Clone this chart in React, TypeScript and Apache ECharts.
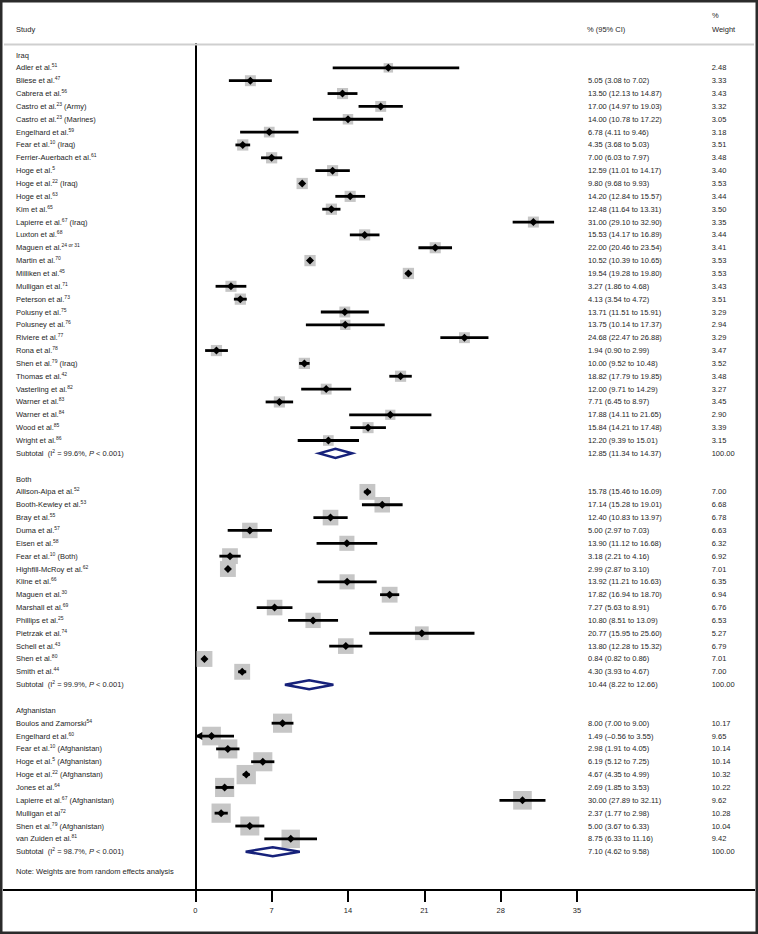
import { useEffect, useRef } from "react";
import * as echarts from "echarts";

// ---------- DATA ----------
const iraqStudy = ["Adler et al.", "Bliese et al.", "Cabrera et al.", "Castro et al.", "Castro et al.", "Engelhard et al.", "Fear et al.", "Ferrier-Auerbach et al.", "Hoge et al.", "Hoge et al.", "Hoge et al.", "Kim et al.", "Lapierre et al.", "Luxton et al.", "Maguen et al.", "Martin et al.", "Milliken et al.", "Mulligan et al.", "Peterson et al.", "Polusny et al.", "Polusney et al.", "Riviere et al.", "Rona et al.", "Shen et al.", "Thomas et al.", "Vasterling et al.", "Warner et al.", "Warner et al.", "Wood et al.", "Wright et al."];
const iraqRef = ["51", "47", "56", "23", "23", "59", "10", "61", "5", "22", "63", "65", "67", "68", "24 or 31", "70", "45", "71", "73", "75", "76", "77", "78", "79", "42", "82", "83", "84", "85", "86"];
const iraqSuffix = ["", "", "", " (Army)", " (Marines)", "", " (Iraq)", "", "", " (Iraq)", "", "", " (Iraq)", "", "", "", "", "", "", "", "", "", "", " (Iraq)", "", "", "", "", "", ""];
const iraqEst = [17.7, 5.05, 13.5, 17.0, 14.0, 6.78, 4.35, 7.0, 12.59, 9.8, 14.2, 12.48, 31.0, 15.53, 22.0, 10.52, 19.54, 3.27, 4.13, 13.71, 13.75, 24.68, 1.94, 10.0, 18.82, 12.0, 7.71, 17.88, 15.84, 12.2];
const iraqLo = [12.6, 3.08, 12.13, 14.97, 10.78, 4.11, 3.68, 6.03, 11.01, 9.68, 12.84, 11.64, 29.1, 14.17, 20.46, 10.39, 19.28, 1.86, 3.54, 11.51, 10.14, 22.47, 0.9, 9.52, 17.79, 9.71, 6.45, 14.11, 14.21, 9.39];
const iraqHi = [24.2, 7.02, 14.87, 19.03, 17.22, 9.46, 5.03, 7.97, 14.17, 9.93, 15.57, 13.31, 32.9, 16.89, 23.54, 10.65, 19.8, 4.68, 4.72, 15.91, 17.37, 26.88, 2.99, 10.48, 19.85, 14.29, 8.97, 21.65, 17.48, 15.01];
const iraqWeight = [2.48, 3.33, 3.43, 3.32, 3.05, 3.18, 3.51, 3.48, 3.4, 3.53, 3.44, 3.5, 3.35, 3.44, 3.41, 3.53, 3.53, 3.43, 3.51, 3.29, 2.94, 3.29, 3.47, 3.52, 3.48, 3.27, 3.45, 2.9, 3.39, 3.15];
const iraqSubtotal = [12.85, 11.34, 14.37];

const bothStudy = ["Allison-Aipa et al.", "Booth-Kewley et al.", "Bray et al.", "Duma et al.", "Eisen et al.", "Fear et al.", "Highfill-McRoy et al.", "Kline et al.", "Maguen et al.", "Marshall et al.", "Phillips et al.", "Pietrzak et al.", "Schell et al.", "Shen et al.", "Smith et al."];
const bothRef = ["52", "53", "55", "57", "58", "10", "62", "66", "30", "69", "25", "74", "43", "80", "44"];
const bothSuffix = ["", "", "", "", "", " (Both)", "", "", "", "", "", "", "", "", ""];
const bothEst = [15.78, 17.14, 12.4, 5.0, 13.9, 3.18, 2.99, 13.92, 17.82, 7.27, 10.8, 20.77, 13.8, 0.84, 4.3];
const bothLo = [15.46, 15.28, 10.83, 2.97, 11.12, 2.21, 2.87, 11.21, 16.94, 5.63, 8.51, 15.95, 12.28, 0.82, 3.93];
const bothHi = [16.09, 19.01, 13.97, 7.03, 16.68, 4.16, 3.1, 16.63, 18.7, 8.91, 13.09, 25.6, 15.32, 0.86, 4.67];
const bothWeight = [7.0, 6.68, 6.78, 6.63, 6.32, 6.92, 7.01, 6.35, 6.94, 6.76, 6.53, 5.27, 6.79, 7.01, 7.0];
const bothSubtotal = [10.44, 8.22, 12.66];

const afgStudy = ["Boulos and Zamorski", "Engelhard et al.", "Fear et al.", "Hoge et al.", "Hoge et al.", "Jones et al.", "Lapierre et al.", "Mulligan et al", "Shen et al.", "van Zuiden et al."];
const afgRef = ["54", "60", "10", "5", "22", "64", "67", "72", "79", "81"];
const afgSuffix = ["", "", " (Afghanistan)", " (Afghanistan)", " (Afghanstan)", "", " (Afghanistan)", "", " (Afghanistan)", ""];
const afgEst = [8.0, 1.49, 2.98, 6.19, 4.67, 2.69, 30.0, 2.37, 5.0, 8.75];
const afgLo = [7.0, -0.56, 1.91, 5.12, 4.35, 1.85, 27.89, 1.77, 3.67, 6.33];
const afgHi = [9.0, 3.55, 4.05, 7.25, 4.99, 3.53, 32.11, 2.98, 6.33, 11.16];
const afgWeight = [10.17, 9.65, 10.14, 10.14, 10.32, 10.22, 9.62, 10.28, 10.04, 9.42];
const afgSubtotal = [7.1, 4.62, 9.58];

const groupTitles = ["Iraq", "Both", "Afghanistan"];
const groupI2 = ["99.6%", "99.9%", "98.7%"];
const hideCI = ["Adler et al."];
const xTicks = [0, 7, 14, 21, 28, 35];

// ---------- CHART ----------
const FONT = "'Liberation Sans', Arial, Helvetica, sans-serif";
const TXT = "#1e1e1e";

function fmt(v: number) {
  const s = Math.abs(v).toFixed(2);
  return v < 0 ? "\u2013" + s : s;
}

export default function App() {
  const ref = useRef<HTMLDivElement>(null);

  useEffect(() => {
    const chart = echarts.init(ref.current!, null, { renderer: "svg" });

    const groups = [
      { study: iraqStudy, refs: iraqRef, suffix: iraqSuffix, est: iraqEst, lo: iraqLo, hi: iraqHi, w: iraqWeight, sub: iraqSubtotal },
      { study: bothStudy, refs: bothRef, suffix: bothSuffix, est: bothEst, lo: bothLo, hi: bothHi, w: bothWeight, sub: bothSubtotal },
      { study: afgStudy, refs: afgRef, suffix: afgSuffix, est: afgEst, lo: afgLo, hi: afgHi, w: afgWeight, sub: afgSubtotal },
    ];

    type TextRow = { row: number; label: string; ci: string; weight: string };
    const textRows: TextRow[] = [];
    const studyData: number[][] = [];
    const subData: number[][] = [];
    let row = 0;
    groups.forEach((g, gi) => {
      textRows.push({ row, label: groupTitles[gi], ci: "", weight: "" });
      row++;
      g.study.forEach((name, i) => {
        textRows.push({
          row,
          label: `${name}{sup|${g.refs[i]}}${g.suffix[i]}`,
          ci: hideCI.includes(name) && gi === 0 ? "" : `${fmt(g.est[i])} (${fmt(g.lo[i])} to ${fmt(g.hi[i])})`,
          weight: g.w[i].toFixed(2),
        });
        studyData.push([g.est[i], row, g.lo[i], g.hi[i], g.w[i]]);
        row++;
      });
      textRows.push({
        row,
        label: `Subtotal  (I{sup|2} = ${groupI2[gi]}, {it|P} < 0.001)`,
        ci: `${fmt(g.sub[0])} (${fmt(g.sub[1])} to ${fmt(g.sub[2])})`,
        weight: "100.00",
      });
      subData.push([g.sub[0], row, g.sub[1], g.sub[2]]);
      row += gi < groups.length - 1 ? 2 : 1;
    });
    textRows.push({ row: row + 0.55, label: "Note: Weights are from random effects analysis", ci: "", weight: "" });

    const rowPx = 12.85;
    const gridTop = 44;
    const gridH = 846;
    const yMin = -(55 - gridTop) / rowPx;
    const yMax = yMin + gridH / rowPx;

    const rich = {
      sup: { fontSize: 5, lineHeight: 6, verticalAlign: "top", fontFamily: FONT, fill: TXT },
      it: { fontSize: 7.5, lineHeight: 10, fontStyle: "italic", fontFamily: FONT, fill: TXT },
    };

    const txt = (x: number, y: number, text: string) => ({
      type: "text",
      x,
      y,
      style: {
        text,
        fill: TXT,
        fontSize: 7.5,
        lineHeight: 10,
        fontFamily: FONT,
        align: "left",
        verticalAlign: "middle",
        rich,
      },
    });

    const option: any = {
      animation: false,
      backgroundColor: "#fff",
      grid: { left: 195.3, top: gridTop, width: 381.7, height: gridH },
      xAxis: {
        type: "value",
        min: 0,
        max: 35,
        interval: 7,
        axisLine: { show: false, onZero: false },
        axisTick: { show: true, length: 12, lineStyle: { color: "#000", width: 2 } },
        axisLabel: {
          show: true,
          margin: 16,
          fontSize: 7.5,
          color: TXT,
          fontFamily: FONT,
          formatter: (v: number) => (xTicks.includes(v) ? String(v) : ""),
        },
        splitLine: { show: false },
      },
      yAxis: {
        type: "value",
        min: yMin,
        max: yMax,
        inverse: true,
        axisLine: { show: true, onZero: false, lineStyle: { color: "#000", width: 2 } },
        axisTick: { show: false },
        axisLabel: { show: false },
        splitLine: { show: false },
      },
      graphic: [
        { type: "rect", shape: { x: 1.25, y: 1.25, width: 755.5, height: 931.5 }, style: { fill: "none", stroke: "#2b2b2b", lineWidth: 2.5 }, z: 100 },
        { type: "line", shape: { x1: 4, y1: 44.5, x2: 754, y2: 44.5 }, style: { stroke: "#cfcfcf", lineWidth: 2 }, z: 1 },
        { type: "line", shape: { x1: 3, y1: 890, x2: 755, y2: 890 }, style: { stroke: "#000", lineWidth: 2 }, z: 50 },
        { type: "text", x: 16, y: 29.5, style: { text: "Study", fill: TXT, fontSize: 7.5, fontFamily: FONT, verticalAlign: "middle" } },
        { type: "text", x: 587, y: 29.5, style: { text: "% (95% CI)", fill: TXT, fontSize: 7.5, fontFamily: FONT, verticalAlign: "middle" } },
        { type: "text", x: 712, y: 15, style: { text: "%", fill: TXT, fontSize: 7.5, fontFamily: FONT, verticalAlign: "middle" } },
        { type: "text", x: 712, y: 29.5, style: { text: "Weight", fill: TXT, fontSize: 7.5, fontFamily: FONT, verticalAlign: "middle" } },
      ],
      series: [
        {
          type: "custom",
          name: "studies",
          data: studyData,
          clip: false,
          renderItem: (_p: any, api: any) => {
            const est = api.value(0), r = api.value(1), lo = api.value(2), hi = api.value(3), w = api.value(4);
            const [cx, cy] = api.coord([est, r]);
            const xl = api.coord([Math.max(lo, 0), r])[0];
            const xh = api.coord([hi, r])[0];
            const s = 6 * Math.sqrt(w);
            const children: any[] = [
              { type: "rect", shape: { x: cx - s / 2, y: cy - s / 2, width: s, height: s }, style: { fill: "#c6c6c6" } },
              { type: "line", shape: { x1: xl, y1: cy, x2: xh, y2: cy }, style: { stroke: "#000", lineWidth: 2.8 } },
              { type: "polygon", shape: { points: [[cx - 4, cy], [cx, cy - 4], [cx + 4, cy], [cx, cy + 4]] }, style: { fill: "#000" } },
            ];
            if (lo < 0) {
              children.push({
                type: "polygon",
                shape: { points: [[xl, cy], [xl + 7, cy - 4], [xl + 7, cy + 4]] },
                style: { fill: "#000" },
              });
            }
            return { type: "group", children };
          },
          z: 5,
        },
        {
          type: "custom",
          name: "subtotals",
          data: subData,
          clip: false,
          renderItem: (_p: any, api: any) => {
            const est = api.value(0), r = api.value(1), lo = api.value(2), hi = api.value(3);
            const [cx, cy] = api.coord([est, r]);
            const xl = api.coord([lo, r])[0];
            const xh = api.coord([hi, r])[0];
            return {
              type: "polygon",
              shape: { points: [[xl, cy], [cx, cy - 4.5], [xh, cy], [cx, cy + 4.5]] },
              style: { fill: "#fff", stroke: "#16217a", lineWidth: 2.5, lineJoin: "miter" },
            };
          },
          z: 6,
        },
        {
          type: "custom",
          name: "texts",
          data: textRows.map((t, i) => [0, t.row, i]),
          clip: false,
          silent: true,
          renderItem: (_p: any, api: any) => {
            const t = textRows[api.value(2)];
            const y = api.coord([0, api.value(1)])[1];
            const children: any[] = [txt(16, y, t.label)];
            if (t.ci) children.push(txt(588, y, t.ci));
            if (t.weight) children.push(txt(711.7, y, t.weight));
            return { type: "group", children };
          },
          z: 7,
        },
      ],
    };

    chart.setOption(option);
    return () => chart.dispose();
  }, []);

  return (
    <div
      ref={ref}
      style={{ position: "absolute", left: 0, top: 0, width: 758, height: 934, background: "#fff" }}
    />
  );
}
